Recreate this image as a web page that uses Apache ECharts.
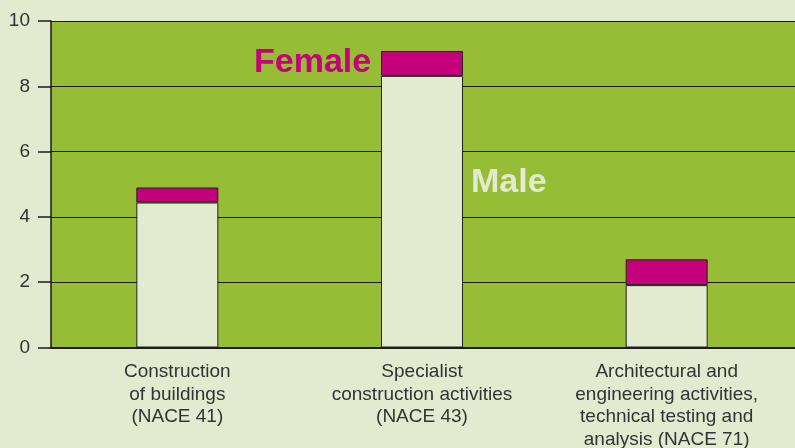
<!DOCTYPE html>
<html><head><meta charset="utf-8">
<script src="https://cdn.jsdelivr.net/npm/echarts@6/dist/echarts.min.js"></script>
<style>html,body{margin:0;padding:0;background:#e2ead0}#c{width:795px;height:448px}</style>
</head><body><div id="c"></div>
<script>
var categories = ['Construction\nof buildings\n(NACE 41)', 'Specialist\nconstruction activities\n(NACE 43)', 'Architectural and\nengineering activities,\ntechnical testing and\nanalysis (NACE 71)'];
var maleValues = [4.44, 8.32, 1.91];
var femaleValues = [0.46, 0.76, 0.79];
var yTicks = [0, 2, 4, 6, 8, 10];

var FONT = '"Liberation Sans", Arial, sans-serif';
var chart = echarts.init(document.getElementById('c'));
chart.setOption({
  backgroundColor: '#e2ead0',
  animation: false,
  grid: [
    {left: 51, right: 0, top: 21, bottom: 100.5, show: true, backgroundColor: '#97bc35', borderWidth: 0, outerBoundsMode: 'none', containLabel: false},
    {left: 55, right: 6, top: 21, bottom: 100.5, outerBoundsMode: 'none', containLabel: false}
  ],
  xAxis: [
    {type: 'category', gridIndex: 0, data: categories, axisLine: {show: true, lineStyle: {color: '#1a1a1a', width: 2}}, axisTick: {show: false}, axisLabel: {show: false}, splitLine: {show: false}},
    {type: 'category', gridIndex: 1, data: categories, axisLine: {show: false}, axisTick: {show: false},
     axisLabel: {interval: 0, margin: 13, color: '#333', fontSize: 19, lineHeight: 22.6, fontFamily: FONT, overflow: 'none'}}
  ],
  yAxis: [
    {type: 'value', gridIndex: 0, min: yTicks[0], max: yTicks[yTicks.length - 1], interval: 2,
     axisLine: {show: true, lineStyle: {color: '#1a1a1a', width: 1.5}},
     axisTick: {show: true, length: 13, inside: false, lineStyle: {color: '#1a1a1a', width: 1.5}},
     axisLabel: {margin: 21, color: '#333', fontSize: 19, fontFamily: FONT},
     splitLine: {show: true, lineStyle: {color: '#1a1a1a', width: 1.2}}},
    {type: 'value', gridIndex: 1, min: 0, max: 10, show: false}
  ],
  series: [
    {name: 'Male', type: 'bar', xAxisIndex: 1, yAxisIndex: 1, stack: 's', data: maleValues, barWidth: 82,
     itemStyle: {color: '#e2ead0', borderColor: '#222', borderWidth: 1}},
    {name: 'Female', type: 'bar', xAxisIndex: 1, yAxisIndex: 1, stack: 's', data: femaleValues, barWidth: 82,
     itemStyle: {color: '#c5007b', borderColor: '#222', borderWidth: 1}}
  ],
  graphic: [
    {type: 'text', x: 254, y: 63, z: 100, style: {text: 'Female', fill: '#c5007b', font: 'bold 34px ' + FONT, verticalAlign: 'middle'}},
    {type: 'text', x: 471, y: 182.5, z: 100, style: {text: 'Male', fill: '#e2ead0', font: 'bold 34px ' + FONT, verticalAlign: 'middle'}}
  ]
});
</script></body></html>
